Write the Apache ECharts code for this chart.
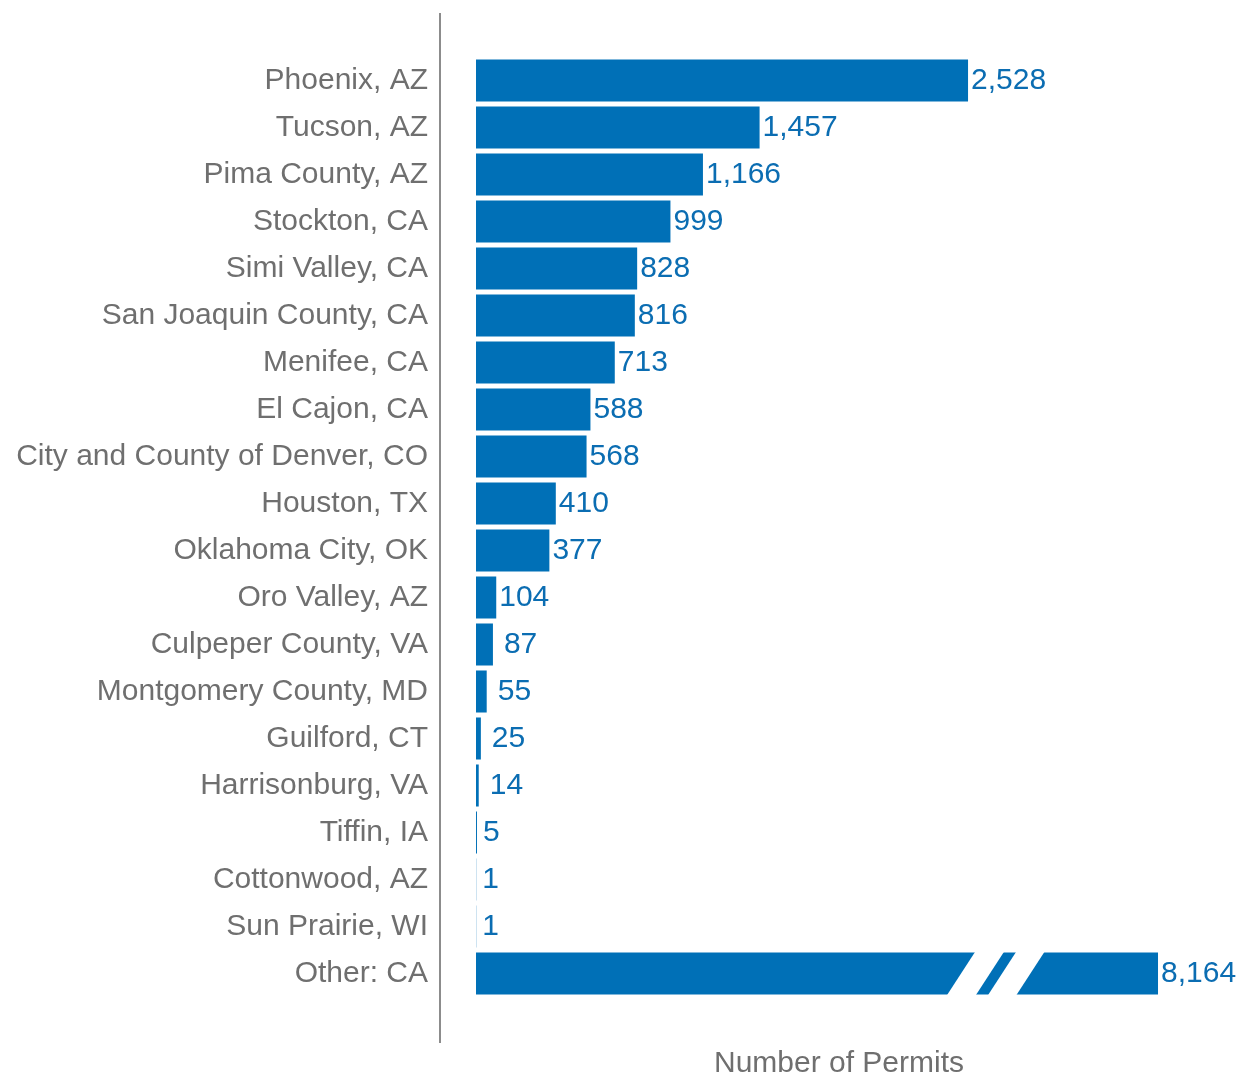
<!DOCTYPE html>
<html>
<head>
<meta charset="utf-8">
<title>Number of Permits</title>
<script src="https://cdn.jsdelivr.net/npm/echarts@6/dist/echarts.min.js"></script>
<style>
  html, body { margin: 0; padding: 0; background: #ffffff; }
  #chart { width: 1242px; height: 1076px; }
</style>
</head>
<body>
<div id="chart"></div>
<script>
// Jurisdictions, top to bottom
const categories = [
  'Phoenix, AZ', 'Tucson, AZ', 'Pima County, AZ', 'Stockton, CA', 'Simi Valley, CA',
  'San Joaquin County, CA', 'Menifee, CA', 'El Cajon, CA', 'City and County of Denver, CO',
  'Houston, TX', 'Oklahoma City, OK', 'Oro Valley, AZ', 'Culpeper County, VA',
  'Montgomery County, MD', 'Guilford, CT', 'Harrisonburg, VA', 'Tiffin, IA',
  'Cottonwood, AZ', 'Sun Prairie, WI', 'Other: CA'
];

// Permits issued per jurisdiction
const permits = [2528, 1457, 1166, 999, 828, 816, 713, 588, 568, 410, 377, 104, 87, 55, 25, 14, 5, 1, 1, 8164];

// Value axis is broken so the large "Other" bar fits
const axisBreak = { start: 2570, end: 7430, gap: 200 };
const axisMax = 8390;

const BLUE = '#0070b7';
const LABEL_BLUE = '#0b6db2';
const GREY = '#6f6f6f';
const FONT = '"Liberation Sans", Arial, Helvetica, sans-serif';
const BAR_RATIO = 0.894;

const chart = echarts.init(document.getElementById('chart'), null, { renderer: 'canvas' });

const barData = permits.map(v => ({
  value: v,
  label: { distance: v >= 100 ? 3 : (v >= 10 ? 11 : 6) }
}));

// White slanted cuts drawn across any bar that runs through the axis break
function renderBreakCut(params, api) {
  const value = api.value(0);
  if (value <= axisBreak.end) return null;
  const cat = api.value(1);
  const pStart = api.coord([axisBreak.start, cat]);
  const pEnd = api.coord([axisBreak.end, cat]);
  const cx = (pStart[0] + pEnd[0]) / 2;
  const cy = pStart[1];
  const barH = api.size([0, 1])[1] * BAR_RATIO;
  const half = barH / 2 + 1;
  const slant = barH * 0.34;
  const cut = (a, b) => ({
    type: 'polygon',
    shape: {
      points: [
        [cx + a + slant, cy - half],
        [cx + b + slant, cy - half],
        [cx + b - slant, cy + half],
        [cx + a - slant, cy + half]
      ]
    },
    style: { fill: '#ffffff' }
  });
  const u = barH / 41.5;
  return {
    type: 'group',
    children: [cut(-34.2 * u, -5.7 * u), cut(6.3 * u, 34.3 * u)]
  };
}

const option = {
  animation: false,
  backgroundColor: '#ffffff',
  textStyle: { fontFamily: FONT },
  grid: { left: 476, right: 40, top: 57, bottom: 79, containLabel: false, outerBoundsMode: 'none' },
  xAxis: {
    type: 'value',
    min: 0,
    max: axisMax,
    breaks: [axisBreak],
    breakArea: { show: false },
    axisLine: { show: false },
    axisTick: { show: false },
    axisLabel: { show: false },
    splitLine: { show: false },
    name: 'Number of Permits',
    nameLocation: 'middle',
    nameGap: 52,
    nameTextStyle: { color: GREY, fontSize: 30, fontFamily: FONT }
  },
  yAxis: {
    type: 'category',
    data: categories,
    inverse: true,
    axisLine: { show: false },
    axisTick: { show: false },
    axisLabel: { color: GREY, fontSize: 30, fontFamily: FONT, margin: 48 }
  },
  series: [
    {
      type: 'bar',
      data: barData,
      barCategoryGap: '10.6%',
      itemStyle: { color: BLUE },
      label: {
        show: true,
        position: 'right',
        color: LABEL_BLUE,
        fontSize: 30,
        fontFamily: FONT,
        formatter: p => p.value.toLocaleString('en-US')
      },
      z: 2
    },
    {
      type: 'custom',
      renderItem: renderBreakCut,
      data: permits.map((v, i) => [v, categories[i]]),
      encode: { x: 0, y: 1 },
      silent: true,
      z: 3
    }
  ],
  graphic: [
    {
      type: 'line',
      shape: { x1: 440, y1: 13, x2: 440, y2: 1043 },
      style: { stroke: '#8c8c8c', lineWidth: 2 },
      silent: true
    }
  ]
};

chart.setOption(option);
</script>
</body>
</html>
